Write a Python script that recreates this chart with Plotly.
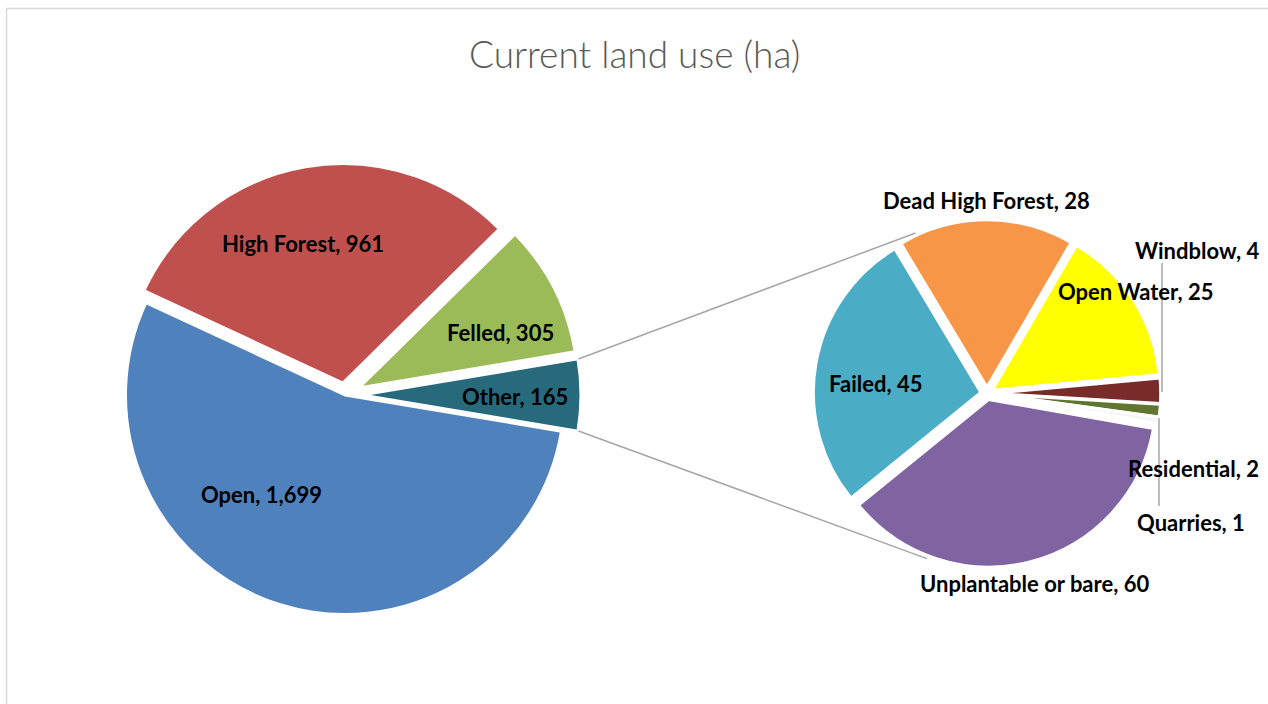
import plotly.graph_objects as go
import math

# ---------------- data ----------------
main_labels = ["Open", "High Forest", "Felled", "Other"]
main_values = [1699, 961, 305, 165]
main_colors = ["#4F81BD", "#C0504D", "#9BBB59", "#276A7C"]

sub_labels = ["Unplantable or bare", "Failed", "Dead High Forest", "Open Water",
              "Windblow", "Residential", "Quarries"]
sub_values = [60, 45, 28, 25, 4, 2, 1]
sub_colors = ["#8064A2", "#4BACC6", "#F79646", "#FFFF00", "#772C2A", "#5F7530", "#F4F4F4"]

title_text = "Current land use (ha)"

# ---------------- layout geometry (pixels) ----------------
W, H = 1268, 704
main_c = (345, 395)
main_r = 219.5
main_pull = [0.0, 0.055, 0.07, 0.075]
sub_c = (987, 393.5)
sub_r = 167.5
sub_pull = [0.037] * len(sub_values)
border_w = 3


def px_x(x):
    return x / W


def px_y(y):
    return 1 - y / H


def domain(c, r, pulls):
    half = r * (1 + max(pulls))
    return dict(x=[(c[0] - half) / W, (c[0] + half) / W],
                y=[(H - c[1] - half) / H, (H - c[1] + half) / H])


# Other slice centred on 3 o'clock; rotation = clock angle where first slice starts
other_half = 180.0 * main_values[-1] / sum(main_values)
main_rotation = 90 + other_half
sub_rotation = 100

fig = go.Figure()
fig.add_trace(go.Pie(
    labels=main_labels, values=main_values, sort=False, direction="clockwise",
    rotation=main_rotation, pull=main_pull, textinfo="none", hoverinfo="label+value",
    marker=dict(colors=main_colors, line=dict(color="white", width=border_w)),
    domain=domain(main_c, main_r, main_pull), showlegend=False,
))
fig.add_trace(go.Pie(
    labels=sub_labels, values=sub_values, sort=False, direction="clockwise",
    rotation=sub_rotation, pull=sub_pull, textinfo="none", hoverinfo="label+value",
    marker=dict(colors=sub_colors, line=dict(color="white", width=border_w)),
    domain=domain(sub_c, sub_r, sub_pull), showlegend=False,
))

# ---------------- labels ----------------
label_pos = {
    "Open": (261, 494), "High Forest": (303, 243), "Felled": (500, 332), "Other": (515, 396),
    "Unplantable or bare": (1034, 583), "Failed": (875, 383), "Dead High Forest": (986, 200),
    "Open Water": (1135, 291), "Windblow": (1197, 250), "Residential": (1193, 469),
    "Quarries": (1191, 522),
}
annotations = []
for lab, val in list(zip(main_labels, main_values)) + list(zip(sub_labels, sub_values)):
    x, y = label_pos[lab]
    annotations.append(dict(
        x=px_x(x), y=px_y(y), xref="paper", yref="paper", showarrow=False,
        xanchor="center", yanchor="middle", text=f"<b>{lab}, {val:,}</b>",
        font=dict(family="Lato", size=22, color="#000000"),
    ))

# ---------------- connector and leader lines ----------------
shapes = []
gray = "#A6A6A6"
off = main_pull[-1] * main_r
r_vis = main_r - border_w / 2
top_main = (main_c[0] + off + r_vis * math.cos(math.radians(other_half)),
            main_c[1] - r_vis * math.sin(math.radians(other_half)))
bot_main = (main_c[0] + off + r_vis * math.cos(math.radians(other_half)),
            main_c[1] + r_vis * math.sin(math.radians(other_half)))
sub_reach = sub_r * (1 + sub_pull[0]) + 2
top_sub = (sub_c[0] + sub_reach * math.cos(math.radians(114)),
           sub_c[1] - sub_reach * math.sin(math.radians(114)))
bot_sub = (sub_c[0] + sub_reach * math.cos(math.radians(-110)),
           sub_c[1] - sub_reach * math.sin(math.radians(-110)))
for a, b in [(top_main, top_sub), (bot_main, bot_sub)]:
    shapes.append(dict(type="line", xref="paper", yref="paper",
                       x0=px_x(a[0] + 2), y0=px_y(a[1]), x1=px_x(b[0]), y1=px_y(b[1]),
                       line=dict(color=gray, width=1.5)))
# leader lines
for (x, y0, y1) in [(1162, 263, 392), (1159, 418, 506)]:
    shapes.append(dict(type="line", xref="paper", yref="paper",
                       x0=px_x(x), y0=px_y(y0), x1=px_x(x), y1=px_y(y1),
                       line=dict(color=gray, width=1.5)))
# chart frame (top and left edges visible)
shapes.append(dict(type="line", xref="paper", yref="paper", x0=px_x(6.5), y0=px_y(8.5),
                   x1=1.0, y1=px_y(8.5), line=dict(color="#D9D9D9", width=1.5)))
shapes.append(dict(type="line", xref="paper", yref="paper", x0=px_x(6.5), y0=px_y(8.5),
                   x1=px_x(6.5), y1=0.0, line=dict(color="#D9D9D9", width=1.5)))

annotations.append(dict(
    x=0.5 + 0.5 / W, y=px_y(53), xref="paper", yref="paper", showarrow=False,
    xanchor="center", yanchor="middle", text=title_text,
    font=dict(family="Lato", size=37, color="#595959", weight=300),
))

fig.update_layout(
    width=W, height=H, margin=dict(l=0, r=0, t=0, b=0),
    paper_bgcolor="white", plot_bgcolor="white",
    annotations=annotations, shapes=shapes,
)

fig.write_html("out.html", config={"displayModeBar": False},
               post_script="document.body.style.margin='0';")
